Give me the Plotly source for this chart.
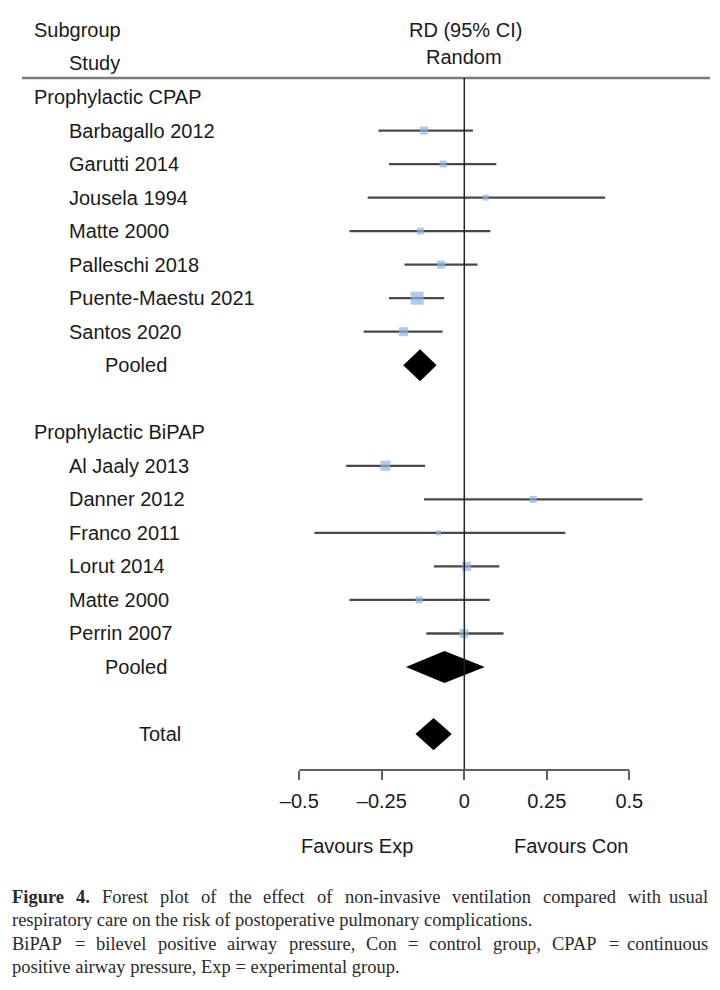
import plotly.graph_objects as go
import math

# ---------------- data ----------------
cpap_studies = ["Barbagallo 2012", "Garutti 2014", "Jousela 1994", "Matte 2000",
                "Palleschi 2018", "Puente-Maestu 2021", "Santos 2020"]
cpap_rd = [-0.122, -0.064, 0.065, -0.133, -0.071, -0.143, -0.184]
cpap_lo = [-0.260, -0.228, -0.293, -0.348, -0.181, -0.228, -0.305]
cpap_hi = [0.026, 0.097, 0.427, 0.079, 0.040, -0.061, -0.066]
cpap_weight = [9.5, 7.2, 5.3, 7.2, 9.5, 25.0, 12.0]
cpap_pooled = [-0.134, -0.185, -0.084]   # estimate, lower, upper

bipap_studies = ["Al Jaaly 2013", "Danner 2012", "Franco 2011", "Lorut 2014",
                 "Matte 2000", "Perrin 2007"]
bipap_rd = [-0.239, 0.209, -0.078, 0.007, -0.137, -0.001]
bipap_lo = [-0.358, -0.122, -0.454, -0.092, -0.348, -0.115]
bipap_hi = [-0.119, 0.540, 0.306, 0.106, 0.077, 0.119]
bipap_weight = [14.8, 7.2, 3.7, 12.0, 7.2, 12.0]
bipap_pooled = [-0.060, -0.177, 0.062]

total_pooled = [-0.093, -0.148, -0.038]

tick_vals = [-0.5, -0.25, 0, 0.25, 0.5]
tick_text = ["\u20130.5", "\u20130.25", "0", "0.25", "0.5"]

caption_lines = [
    ("Figure 4. Forest plot of the effect of non-invasive ventilation compared with usual", True),
    ("respiratory care on the risk of postoperative pulmonary complications.", False),
    ("BiPAP = bilevel positive airway pressure, Con = control group, CPAP = continuous", True),
    ("positive airway pressure, Exp = experimental group.", False),
]

# ---------------- layout geometry ----------------
OFF = 8                      # page body margin
W, H = 720 - OFF, 990 - OFF
PLOT_BOTTOM = 770 - OFF      # figure px of axis line
ROW0_PX = 97.0 - OFF
ROW_PX = 33.53
ZERO_PX = 464.3 - OFF
UNIT_PX = 330.0
x_min = -ZERO_PX / UNIT_PX
x_max = (W - ZERO_PX) / UNIT_PX
y_top = -ROW0_PX / ROW_PX
y_bot = (PLOT_BOTTOM - ROW0_PX) / ROW_PX

def py(ref_px):  # reference page y -> paper y
    return 1 - (ref_px - OFF) / PLOT_BOTTOM

def px_x(ref_px):  # reference page x -> paper x
    return (ref_px - OFF) / W

FONT = "Liberation Sans, Arial, sans-serif"
TXT = "#1a1a1a"
FS = 20

# rows
cpap_head_row = 0
cpap_rows = list(range(1, 1 + len(cpap_studies)))
cpap_pool_row = cpap_rows[-1] + 1
bipap_head_row = cpap_pool_row + 2
bipap_rows = list(range(bipap_head_row + 1, bipap_head_row + 1 + len(bipap_studies)))
bipap_pool_row = bipap_rows[-1] + 1
total_row = bipap_pool_row + 2

fig = go.Figure()

# CI lines
rd_all = cpap_rd + bipap_rd
lo_all = cpap_lo + bipap_lo
hi_all = cpap_hi + bipap_hi
w_all = cpap_weight + bipap_weight
rows_all = cpap_rows + bipap_rows
lx, ly = [], []
for lo, hi, r in zip(lo_all, hi_all, rows_all):
    lx += [lo, hi, None]
    ly += [r, r, None]
fig.add_trace(go.Scatter(x=lx, y=ly, mode="lines",
                         line=dict(color="#484848", width=2.3),
                         hoverinfo="skip", showlegend=False))

# study squares
fig.add_trace(go.Scatter(x=rd_all, y=rows_all, mode="markers",
                         marker=dict(symbol="square", color="#8db3e2",
                                     size=[2.6 * math.sqrt(w) for w in w_all],
                                     line=dict(width=0)),
                         showlegend=False))

# diamonds
HALF = 0.48
for (est, lo, hi), r in [(cpap_pooled, cpap_pool_row),
                         (bipap_pooled, bipap_pool_row),
                         (total_pooled, total_row)]:
    fig.add_trace(go.Scatter(x=[lo, est, hi, est, lo],
                             y=[r, r - HALF, r, r + HALF, r],
                             mode="lines", fill="toself", fillcolor="black",
                             line=dict(color="black", width=0),
                             hoverinfo="skip", showlegend=False))

ann = []
def label(text, xpx, row, anchor="left", size=FS, color=TXT):
    ann.append(dict(text=text, x=px_x(xpx), xref="paper", y=row, yref="y",
                    xanchor=anchor, yanchor="middle", showarrow=False,
                    font=dict(family=FONT, size=size, color=color)))

label("Prophylactic CPAP", 32, cpap_head_row)
for s, r in zip(cpap_studies, cpap_rows):
    label(s, 67, r)
label("Pooled", 103, cpap_pool_row)
label("Prophylactic BiPAP", 32, bipap_head_row)
for s, r in zip(bipap_studies, bipap_rows):
    label(s, 67, r)
label("Pooled", 103, bipap_pool_row)
label("Total", 137, total_row)

def ptext(text, xpx, ypx, anchor="left", size=FS, family=FONT, color=TXT):
    ann.append(dict(text=text, x=px_x(xpx), xref="paper", y=py(ypx), yref="paper",
                    xanchor=anchor, yanchor="middle", showarrow=False,
                    font=dict(family=family, size=size, color=color)))

ptext("Subgroup", 32, 30)
ptext("Study", 67, 63)
ptext("RD (95% CI)", 465, 30, anchor="center")
ptext("Random", 464, 57, anchor="center")
ptext("Favours Exp", 357, 846, anchor="center")
ptext("Favours Con", 571, 846, anchor="center")

# ---- caption (justified lines laid out word by word, Times metrics) ----
CAP_FONT = "Liberation Serif, Times New Roman, serif"
CAP_FS = 18.5
CAP_COLOR = "#2a2a2a"
TIMES_W = {
    'a': 444, 'b': 500, 'c': 444, 'd': 500, 'e': 444, 'f': 333, 'g': 500, 'h': 500,
    'i': 278, 'j': 278, 'k': 500, 'l': 278, 'm': 778, 'n': 500, 'o': 500, 'p': 500,
    'q': 500, 'r': 333, 's': 389, 't': 278, 'u': 500, 'v': 500, 'w': 722, 'x': 500,
    'y': 500, 'z': 444, 'A': 722, 'B': 667, 'C': 667, 'D': 722, 'E': 611, 'F': 556,
    'G': 722, 'H': 722, 'I': 333, 'J': 389, 'K': 722, 'L': 611, 'M': 889, 'N': 722,
    'O': 722, 'P': 556, 'Q': 722, 'R': 667, 'S': 556, 'T': 611, 'U': 722, 'V': 722,
    'W': 944, 'X': 722, 'Y': 722, 'Z': 611, '.': 250, ',': 250, '-': 333, '=': 564,
    ' ': 250,
}
for d in "0123456789":
    TIMES_W[d] = 500
BOLD_W = {'F': 611, 'i': 278, 'g': 500, 'u': 556, 'r': 444, 'e': 444, '4': 500, '.': 250}

def word_width(w, bold=False):
    tbl = BOLD_W if bold else TIMES_W
    return sum(tbl.get(c, TIMES_W.get(c, 500)) for c in w) / 1000.0 * CAP_FS

CAP_LEFT, CAP_RIGHT = 10, 710
for i, (line, justify) in enumerate(caption_lines):
    ypx = 897 + i * 23.3
    words = line.split(" ")
    if not justify:
        ptext(line, CAP_LEFT, ypx, size=CAP_FS, family=CAP_FONT, color=CAP_COLOR)
        continue
    bold_flags = [i == 0 and k < 2 for k in range(len(words))]
    widths = [word_width(w, b) for w, b in zip(words, bold_flags)]
    gap = (CAP_RIGHT - CAP_LEFT - sum(widths)) / (len(words) - 1)
    x = CAP_LEFT
    for k, (w, b, wd) in enumerate(zip(words, bold_flags, widths)):
        txt = "<b>%s</b>" % w if b else w
        if k == len(words) - 1:
            ptext(txt, CAP_RIGHT, ypx, anchor="right", size=CAP_FS,
                  family=CAP_FONT, color=CAP_COLOR)
        else:
            ptext(txt, x, ypx, size=CAP_FS, family=CAP_FONT, color=CAP_COLOR)
        x += wd + gap

shapes = [
    # header rule
    dict(type="line", xref="paper", yref="paper", x0=px_x(22), x1=px_x(710),
         y0=py(78), y1=py(78), line=dict(color="#7a7a7a", width=2.5)),
    # zero line
    dict(type="line", xref="x", yref="paper", x0=0, x1=0, y0=py(78), y1=0,
         line=dict(color="#222222", width=1.5)),
    # axis line
    dict(type="line", xref="x", yref="paper", x0=-0.5, x1=0.5, y0=0, y1=0,
         line=dict(color="#606060", width=2)),
]

fig.update_layout(
    width=W, height=H,
    margin=dict(l=0, r=0, t=0, b=H - PLOT_BOTTOM),
    paper_bgcolor="white", plot_bgcolor="white",
    showlegend=False,
    xaxis=dict(range=[x_min, x_max], showgrid=False, zeroline=False,
               showline=False, tickmode="array", tickvals=tick_vals,
               ticktext=tick_text, ticks="outside", ticklen=9, tickwidth=2,
               tickcolor="#606060", ticklabelstandoff=4,
               tickfont=dict(family=FONT, size=FS, color=TXT),
               fixedrange=True),
    yaxis=dict(range=[y_bot, y_top], visible=False, fixedrange=True),
    annotations=ann, shapes=shapes,
)

fig.write_html("out.html")
